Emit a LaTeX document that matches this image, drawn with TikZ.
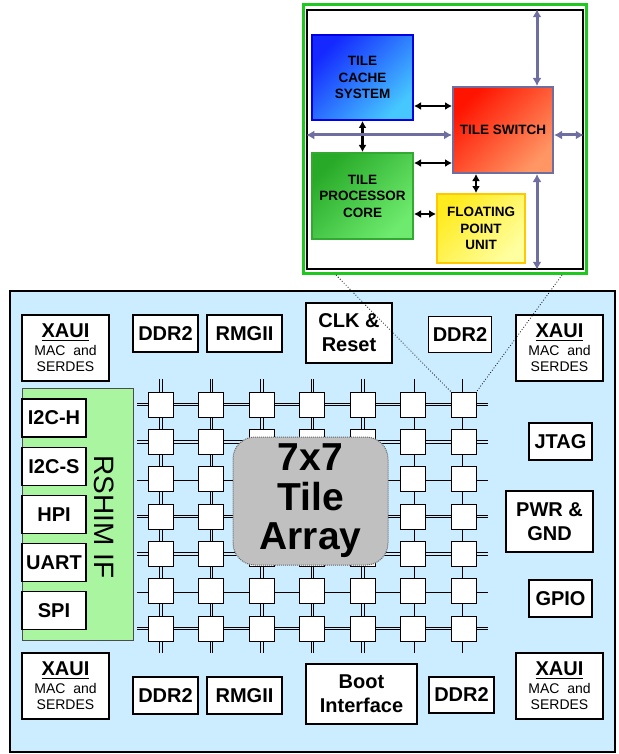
\documentclass[tikz,border=0pt]{standalone}
\usepackage{fontspec}
\setmainfont{Liberation Sans}
\usepackage{tikz}
\usetikzlibrary{arrows.meta,positioning,calc}
\usepackage{xcolor}
\definecolor{chipblue}{RGB}{204,236,255}
\definecolor{rshimgreen}{RGB}{170,245,160}
\definecolor{arraygray}{RGB}{192,192,192}
\definecolor{framegreen}{RGB}{30,200,30}
\definecolor{busgray}{RGB}{110,110,160}
\definecolor{cacheA}{RGB}{20,40,255}
\definecolor{cacheB}{RGB}{70,200,255}
\definecolor{cacheline}{RGB}{0,0,230}
\definecolor{procA}{RGB}{40,170,40}
\definecolor{procB}{RGB}{110,235,110}
\definecolor{procline}{RGB}{50,170,50}
\definecolor{switchA}{RGB}{255,20,0}
\definecolor{switchB}{RGB}{255,150,100}
\definecolor{fpuA}{RGB}{255,235,30}
\definecolor{fpuB}{RGB}{255,255,160}
\definecolor{fpuline}{RGB}{255,200,0}
\newcommand{\thickul}[1]{\leavevmode\vtop{\hbox{#1}\kern1.5pt\hrule height 1.8pt}}
\newcommand{\smalltxt}[1]{{\normalfont\fontsize{14}{16}\selectfont #1}}
\newcommand{\xauitext}{\thickul{XAUI}\\[-6pt]\smalltxt{MAC\ \ and}\\[-8pt]\smalltxt{SERDES}}
\tikzset{
  box/.style={draw, fill=white, line width=1.2pt, inner sep=0pt, align=center,
    font=\bfseries\fontsize{20}{24}\selectfont},
  xaui/.style={box, minimum width=87, minimum height=66},
  port/.style={box, minimum width=64, minimum height=38},
  tile/.style={draw, fill=white, line width=1pt, minimum size=25, inner sep=0pt},
  link/.style={draw, line width=0.9pt, double=chipblue, double distance=1.6pt},
  unit/.style={draw, line width=2pt, inner sep=0pt, align=center, shading angle=45,
    font=\bfseries\fontsize{13.5}{16.5}\selectfont},
  dblarr/.style={{Latex[length=7pt,width=8pt]}-{Latex[length=7pt,width=8pt]}, line width=2.6pt},
  busarr/.style={{Latex[length=8pt,width=9pt]}-{Latex[length=8pt,width=9pt]}, line width=3pt, draw=busgray},
}
\begin{document}
\begin{tikzpicture}[x=1pt, y=-1pt]
\useasboundingbox (0,0) rectangle (618,754);
\node[draw, line width=2.4pt, fill=chipblue, minimum width=605, minimum height=461] (chip) at (312.5,521.5) {};

\node[xaui] (xauitl) at (65.5,348) {\xauitext};
\node[box, minimum width=65, minimum height=37] (ddrtl) at (165.5,333.5) {DDR2};
\node[box, minimum width=75, minimum height=37] (rmgtl) at (244.5,333.5) {RMGII};
\node[box, minimum width=86, minimum height=60] (clk) at (349,333) {CLK \&\\Reset};
\node[box, minimum width=63, minimum height=36] (ddrtr) at (460,334.5) {DDR2};
\node[xaui] (xauitr) at (559.5,348) {\xauitext};
\node[port, minimum width=63, minimum height=37] (jtag) at (560.5,441.5) {JTAG};
\node[box, minimum width=87, minimum height=61] (pwr) at (549.5,521.5) {PWR \&\\GND};
\node[port, minimum width=63, minimum height=37] (gpio) at (560.5,598.5) {GPIO};
\node[xaui] (xauibr) at (559.5,686) {\xauitext};
\node[box, minimum width=65, minimum height=36] (ddrbr) at (461.5,695) {DDR2};
\node[box, minimum width=111, minimum height=60] (boot) at (361.5,694) {Boot\\Interface};
\node[box, minimum width=65, minimum height=37] (ddrbl) at (165.5,695.5) {DDR2};
\node[box, minimum width=75, minimum height=37] (rmgbl) at (244.5,695.5) {RMGII};
\node[xaui] (xauibl) at (65.5,686) {\xauitext};

\node[draw=black!70, line width=1pt, fill=rshimgreen, minimum width=111, minimum height=252] (rshim) at (77.5,514) {};
\node[rotate=-90, font=\fontsize{28}{30}\selectfont] (rshimlbl) at (104,517) {RSHIM IF};
\node[port] (i2ch) at (54,418) {I2C-H};
\node[port, below=9pt of i2ch] (i2cs) {I2C-S};
\node[port, below=9pt of i2cs] (hpi) {HPI};
\node[port, below=9pt of hpi] (uart) {UART};
\node[port, below=9pt of uart] (spi) {SPI};

\foreach \c in {1,...,7}{
  \foreach \r in {1,...,7}{
    \coordinate (g-\c-\r) at ({161+(\c-1)*50.45},{404.5+(\r-1)*37.35});
  }
}
\foreach \r in {1,...,7} \draw[link] ([xshift=-24pt]g-1-\r) -- ([xshift=24.5pt]g-7-\r);
\foreach \c in {1,...,7} \draw[link] ([yshift=25.5pt]g-\c-1) -- ([yshift=-24.5pt]g-\c-7);
\foreach \c in {1,...,7}{
  \foreach \r in {1,...,7}{
    \node[tile] (t-\c-\r) at (g-\c-\r) {};
  }
}
\node[draw=black!60, densely dotted, line width=1pt, fill=arraygray, rounded corners=22pt,
  minimum width=155, minimum height=128, align=center,
  font=\bfseries\fontsize{39}{39.5}\selectfont] (array) at (310.5,501) {7x7\\Tile\\Array};

\node[draw=framegreen, line width=3pt, fill=white, minimum width=283, minimum height=268.5] (frame) at (445,139.25) {};
\node[draw, line width=1.5pt, minimum width=276, minimum height=259] (inset) at (445,139.5) {};
\node[unit, draw=cacheline, top color=cacheA, bottom color=cacheB, shading angle=45,
  minimum width=101, minimum height=85] (cache) at (362.5,77.5) {TILE\\CACHE\\SYSTEM};
\node[unit, draw=procline, top color=procA, bottom color=procB, shading angle=45,
  minimum width=101, minimum height=86] (proc) at (362.5,196) {TILE\\PROCESSOR\\CORE};
\node[unit, draw=busgray, top color=switchA, bottom color=switchB, shading angle=45,
  minimum width=100, minimum height=86] (switch) at (503,130) {TILE SWITCH};
\node[unit, draw=fpuline, top color=fpuA, bottom color=fpuB, shading angle=45,
  minimum width=88, minimum height=69] (fpu) at (481,228.5) {FLOATING\\POINT\\UNIT};

\coordinate (lvA) at (0,106);
\coordinate (lvB) at (0,163);
\coordinate (lvC) at (0,214);
\coordinate (lvBus) at (0,135);
\coordinate (lvD) at (476,0);
\coordinate (lvE) at (537,0);
\draw[dblarr] (cache.east |- lvA) -- (switch.west |- lvA);
\draw[dblarr] (proc.east |- lvB) -- (switch.west |- lvB);
\draw[dblarr] (proc.east |- lvC) -- (fpu.west |- lvC);
\draw[dblarr] (cache.south) -- (proc.north);
\draw[dblarr] (switch.south -| lvD) -- (fpu.north -| lvD);
\draw[busarr] (inset.west |- lvBus) -- (switch.west |- lvBus);
\draw[busarr] (switch.east |- lvBus) -- (inset.east |- lvBus);
\draw[busarr] (switch.north -| lvE) -- (inset.north -| lvE);
\draw[busarr] (switch.south -| lvE) -- (inset.south -| lvE);

\coordinate (zl) at (336,275);
\coordinate (zr) at (562,275);
\draw[dotted, line width=0.8pt] (zl) -- (t-7-1.north west);
\draw[dotted, line width=0.8pt] (zr) -- (t-7-1.north east);
\end{tikzpicture}
\end{document}
